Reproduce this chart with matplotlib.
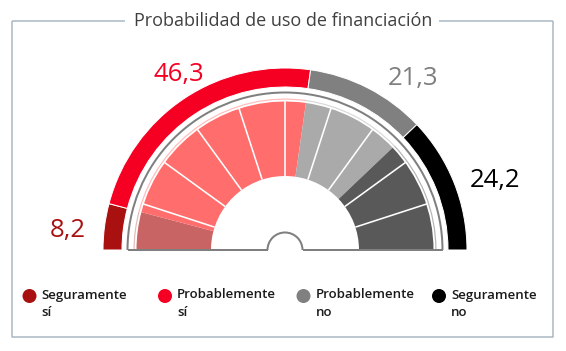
import matplotlib.pyplot as plt
from matplotlib.patches import Wedge, Arc, Circle
import numpy as np

plt.rcParams['font.family'] = ['Open Sans', 'DejaVu Sans']

# ---- data ----
categories = ["Seguramente\nsí", "Probablemente\nsí", "Probablemente\nno", "Seguramente\nno"]
values = [8.2, 46.3, 21.3, 24.2]
value_labels = ["8,2", "46,3", "21,3", "24,2"]
title = "Probabilidad de uso de financiación"
n_blocks = 10

# ---- styles ----
outer_colors = ['#A91111', '#F50022', '#808080', '#000000']
inner_colors = ['#C86464', '#FF6D6D', '#AAAAAA', '#595959']
label_colors = ['#A91111', '#F50022', '#7F7F7F', '#000000']
label_pos = [(68, 231), (179, 74), (413, 79), (495, 181)]
legend_x = [29.5, 165, 303.5, 439]
legend_y = 296
frame_color = '#A9B7C2'

W, H = 566, 351
fig = plt.figure(figsize=(W / 100, H / 100), dpi=100)
ax = fig.add_axes([0, 0, 1, 1])
ax.set_xlim(0, W)
ax.set_ylim(H, 0)
ax.axis('off')

px = 72 / 100  # points per pixel
cx, cy = 285, 250
R_out, w_out = 182, 19
R_frame = 157.5
R_in_out, R_in_in = 148.5, 74
R_hub = 17.5

total = sum(values)
cum = np.concatenate([[0], np.cumsum(values)]) / total

def ang(f):
    return 180 + 180 * f

# outer ring
for i in range(len(values)):
    ax.add_patch(Wedge((cx, cy), R_out, ang(cum[i]), ang(cum[i + 1]), width=w_out,
                       facecolor=outer_colors[i], edgecolor='white', lw=1.0 * px))

# inner block ring coloured by share
for i in range(len(values)):
    ax.add_patch(Wedge((cx, cy), R_in_out, ang(cum[i]), ang(cum[i + 1]),
                       width=R_in_out - R_in_in, facecolor=inner_colors[i],
                       edgecolor='none', lw=0))
    ax.add_patch(Wedge((cx, cy), 151.5, ang(cum[i]), ang(cum[i + 1]), width=1.2,
                       facecolor=inner_colors[i], edgecolor='none', alpha=0.45))

# white block dividers
for k in range(1, n_blocks):
    t = np.deg2rad(ang(k / n_blocks))
    ax.plot([cx + R_in_in * np.cos(t), cx + (R_in_out + 0.5) * np.cos(t)],
            [cy + R_in_in * np.sin(t), cy + (R_in_out + 0.5) * np.sin(t)],
            color='white', lw=1.6 * px, solid_capstyle='butt')

# gauge frame line
lc = '#7F7F7F'
ax.add_patch(Arc((cx, cy), 2 * R_frame, 2 * R_frame, theta1=180, theta2=360,
                 color=lc, lw=2 * px))
ax.add_patch(Arc((cx, cy), 2 * R_hub, 2 * R_hub, theta1=180, theta2=360,
                 color=lc, lw=2 * px))
ax.plot([cx - R_frame, cx - R_hub], [cy, cy], color=lc, lw=2 * px, solid_capstyle='butt')
ax.plot([cx + R_hub, cx + R_frame], [cy, cy], color=lc, lw=2 * px, solid_capstyle='butt')

# value labels
for lab, (x, y), c in zip(value_labels, label_pos, label_colors):
    ax.text(x, y, lab, color=c, fontsize=18.5, ha='center', va='center')

# title and frame
ax.text(283, 21, title, fontsize=13, color='#404040', ha='center', va='center')
fl = dict(color=frame_color, lw=1.5 * px, solid_capstyle='butt')
ax.plot([12, 125], [21, 21], **fl)
ax.plot([439, 553], [21, 21], **fl)
ax.plot([12, 12, 553, 553], [21, 337, 337, 21], **fl)

# legend
for i in range(len(categories)):
    ax.add_patch(Circle((legend_x[i], legend_y), 7, facecolor=outer_colors[i],
                        edgecolor='none'))
    ax.text(legend_x[i] + 12, legend_y - 7.5, categories[i], fontsize=9.5,
            fontweight='semibold', color='#1A1A1A', ha='left', va='top',
            linespacing=1.45)

fig.savefig('out.png', dpi=100)
